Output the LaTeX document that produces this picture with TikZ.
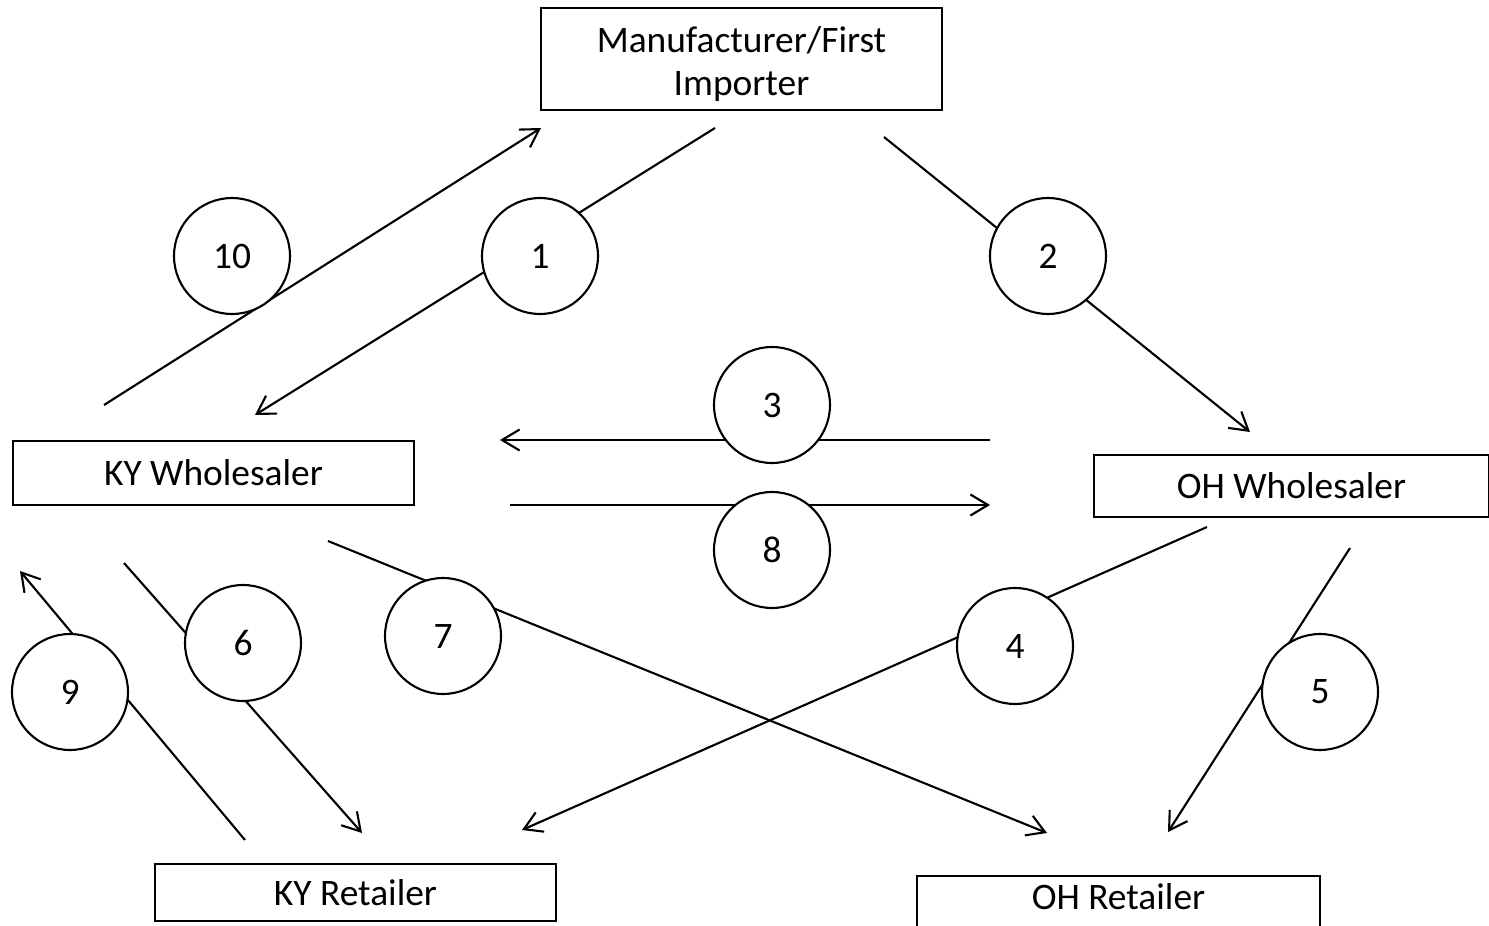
\documentclass[tikz,border=0pt]{standalone}
\usepackage{fontspec}
\setmainfont{Carlito}
\usetikzlibrary{arrows.meta}
\tikzset{
  party/.style={draw, line width=1.3pt, fill=white, align=center, inner sep=0pt,
    font=\fontsize{21.3}{24}\selectfont},
  stepno/.style={circle, draw, line width=1.2pt, fill=white, minimum size=2.32cm,
    inner sep=0pt, font=\fontsize{21.3}{24}\selectfont},
  flow/.style={line width=1.2pt, -{Straight Barb[length=10pt,width=12pt]}},
  lab/.style={align=center, font=\fontsize{21.3}{24}\selectfont}
}

\begin{document}
\begin{tikzpicture}[x=0.02cm, y=-0.02cm]
  \useasboundingbox (0,0) rectangle (1489,926);

  % parties
  \node[party, minimum width=8.02cm, minimum height=2.04cm] (mfr) at (741.5,59) {};
  \node[lab] (mfrtext) at (741.5,64) {Manufacturer/First\\Importer};
  \node[party, minimum width=8.02cm, minimum height=1.28cm] (kyw) at (213.5,473) {KY Wholesaler};
  \node[party, minimum width=7.9cm, minimum height=1.24cm] (ohw) at (1291.5,486) {OH Wholesaler};
  \node[party, minimum width=8.02cm, minimum height=1.14cm] (kyr) at (355.5,892.5) {KY Retailer};
  \node[party, minimum width=8.06cm, minimum height=1.2cm] (ohr) at (1118.5,906) {};
  \node[lab] (ohrtext) at (1118.5,897) {OH Retailer};

  % ends of the flows
  \coordinate (a10) at (104,405);  \coordinate (b10) at (541,128);
  \coordinate (a1)  at (715,128);  \coordinate (b1)  at (255,415);
  \coordinate (a2)  at (884,137);  \coordinate (b2)  at (1250,432);
  \coordinate (a3)  at (990,440);  \coordinate (b3)  at (500,440);
  \coordinate (a8)  at (510,505);  \coordinate (b8)  at (990,505);
  \coordinate (a4)  at (1207,527); \coordinate (b4)  at (522,830);
  \coordinate (a5)  at (1350,548); \coordinate (b5)  at (1168,832);
  \coordinate (a6)  at (124,563);  \coordinate (b6)  at (362,833);
  \coordinate (a7)  at (328,541);  \coordinate (b7)  at (1047,833);
  \coordinate (a9)  at (245,840);  \coordinate (b9)  at (20,571);

  \foreach \n in {10,1,2,3,8,4,5,6,7,9}
    \draw[flow] (a\n) -- (b\n);

  % step numbers
  \node[stepno] (s10) at (232,256) {10};
  \node[stepno] (s1)  at (540,256) {1};
  \node[stepno] (s2)  at (1048,256) {2};
  \node[stepno] (s3)  at (772,405) {3};
  \node[stepno] (s8)  at (772,550) {8};
  \node[stepno] (s6)  at (243,643) {6};
  \node[stepno] (s7)  at (443,636) {7};
  \node[stepno] (s4)  at (1015,646) {4};
  \node[stepno] (s5)  at (1320,692) {5};
  \node[stepno] (s9)  at (70,692) {9};
\end{tikzpicture}
\end{document}
